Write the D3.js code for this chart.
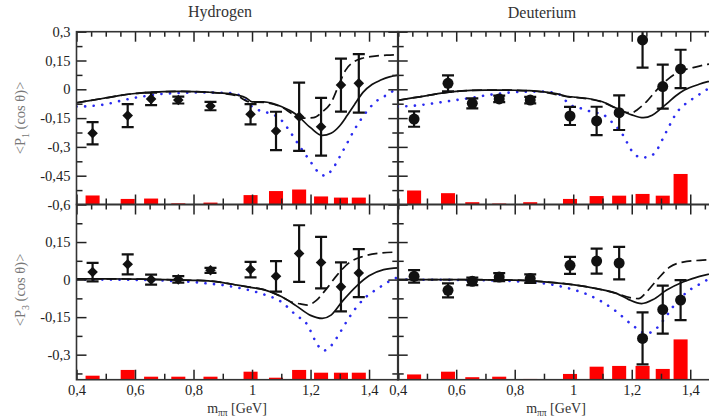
<!DOCTYPE html>
<html>
<head>
<meta charset="utf-8">
<script src="https://cdn.jsdelivr.net/npm/d3@7"></script>
<style>
  body { margin: 0; background: #fff; }
  svg { display: block; font-family: "Liberation Serif", "DejaVu Serif", serif; }
  .tick text { font-family: "Liberation Serif", "DejaVu Serif", serif; font-size: 14.5px; fill: #222; }
  .tick line { stroke: #222; stroke-width: 1.5; }
</style>
</head>
<body>
<div class="chart"></div>
<script>
// masses of the data bins (GeV)
const massH = [0.455, 0.575, 0.655, 0.748, 0.858, 0.995, 1.082, 1.161, 1.236, 1.304, 1.365];
const massD = [0.456, 0.572, 0.655, 0.747, 0.853, 0.989, 1.08, 1.157, 1.237, 1.306, 1.367];

// <P1(cos theta)>
const hP1 = [-0.229, -0.137, -0.05, -0.056, -0.087, -0.13, -0.217, -0.143, -0.195, 0.022, 0.031];
const hP1Err = [0.058, 0.06, 0.032, 0.018, 0.022, 0.053, 0.1, 0.178, 0.15, 0.138, 0.152];
const hP1Sys = [0.047, 0.029, 0.031, 0.006, 0.01, 0.049, 0.07, 0.078, 0.042, 0.036, 0.036];
const dP1 = [-0.155, 0.031, -0.073, -0.05, -0.056, -0.139, -0.165, -0.122, 0.257, 0.014, 0.106];
const dP1Err = [0.04, 0.042, 0.026, 0.017, 0.017, 0.047, 0.074, 0.09, 0.144, 0.115, 0.1];
const dP1Sys = [0.073, 0.059, 0.012, 0.005, 0.012, 0.029, 0.044, 0.046, 0.055, 0.046, 0.159];

// <P3(cos theta)>
const hP3 = [0.03, 0.061, 0.0, 0.001, 0.037, 0.04, 0.013, 0.104, 0.068, -0.029, 0.026];
const hP3Err = [0.037, 0.04, 0.02, 0.013, 0.01, 0.031, 0.061, 0.113, 0.103, 0.098, 0.096];
const hP3Sys = [0.016, 0.039, 0.012, 0.012, 0.012, 0.032, 0.008, 0.039, 0.028, 0.028, 0.028];
const dP3 = [0.013, -0.043, -0.007, 0.01, 0.004, 0.057, 0.074, 0.066, -0.235, -0.12, -0.082];
const dP3Err = [0.025, 0.028, 0.015, 0.016, 0.017, 0.034, 0.05, 0.065, 0.104, 0.096, 0.08];
const dP3Sys = [0.021, 0.032, 0.01, 0.012, 0.003, 0.023, 0.052, 0.055, 0.055, 0.043, 0.161];

// model curves, [mass, value]
const hP1Solid = [[0.4,-0.07],[0.45,-0.058],[0.5,-0.045],[0.55,-0.032],[0.6,-0.022],[0.65,-0.016],[0.7,-0.012],[0.75,-0.011],[0.8,-0.012],[0.85,-0.015],[0.9,-0.02],[0.95,-0.03],[0.98,-0.045],[1.0,-0.065],[1.04,-0.066],[1.1,-0.09],[1.15,-0.13],[1.2,-0.2],[1.24,-0.24],[1.27,-0.229],[1.3,-0.19],[1.325,-0.137],[1.35,-0.08],[1.38,-0.015],[1.41,0.025],[1.44,0.048],[1.47,0.065],[1.5,0.074]];
const hP1Dash = [[0.4,-0.07],[0.45,-0.058],[0.5,-0.045],[0.55,-0.032],[0.6,-0.022],[0.65,-0.016],[0.7,-0.012],[0.75,-0.011],[0.8,-0.012],[0.85,-0.015],[0.9,-0.022],[0.95,-0.035],[0.99,-0.065],[1.04,-0.068],[1.1,-0.092],[1.15,-0.138],[1.18,-0.15],[1.21,-0.148],[1.24,-0.118],[1.27,-0.07],[1.3,0.035],[1.32,0.1],[1.35,0.145],[1.38,0.163],[1.42,0.173],[1.46,0.178],[1.5,0.18]];
const hP1Dot = [[0.4,-0.09],[0.45,-0.087],[0.5,-0.078],[0.55,-0.06],[0.6,-0.044],[0.65,-0.032],[0.7,-0.023],[0.75,-0.019],[0.8,-0.017],[0.85,-0.017],[0.9,-0.018],[0.94,-0.022],[0.97,-0.045],[1.0,-0.09],[1.03,-0.113],[1.06,-0.125],[1.1,-0.16],[1.13,-0.221],[1.16,-0.29],[1.2,-0.377],[1.225,-0.429],[1.25,-0.45],[1.275,-0.415],[1.3,-0.351],[1.325,-0.281],[1.35,-0.21],[1.375,-0.151],[1.4,-0.1],[1.43,-0.056],[1.46,-0.03],[1.5,0.01]];

const dP1Solid = [[0.4,-0.058],[0.45,-0.045],[0.5,-0.033],[0.55,-0.02],[0.6,-0.011],[0.65,-0.006],[0.7,-0.004],[0.75,-0.004],[0.8,-0.005],[0.85,-0.007],[0.9,-0.013],[0.95,-0.025],[0.985,-0.038],[1.0,-0.04],[1.05,-0.048],[1.1,-0.065],[1.15,-0.1],[1.2,-0.133],[1.24,-0.148],[1.27,-0.135],[1.3,-0.1],[1.32,-0.075],[1.35,-0.035],[1.38,-0.004],[1.43,0.026],[1.46,0.04],[1.5,0.055]];
const dP1Dash = [[0.4,-0.058],[0.45,-0.045],[0.5,-0.033],[0.55,-0.02],[0.6,-0.011],[0.65,-0.006],[0.7,-0.004],[0.75,-0.004],[0.8,-0.005],[0.85,-0.008],[0.9,-0.015],[0.95,-0.03],[0.985,-0.04],[1.0,-0.042],[1.05,-0.05],[1.1,-0.067],[1.15,-0.102],[1.18,-0.12],[1.2,-0.122],[1.22,-0.105],[1.25,-0.065],[1.285,-0.004],[1.32,0.048],[1.36,0.09],[1.41,0.113],[1.46,0.13],[1.5,0.135]];
const dP1Dot = [[0.4,-0.09],[0.45,-0.086],[0.5,-0.078],[0.55,-0.067],[0.6,-0.056],[0.65,-0.045],[0.7,-0.032],[0.75,-0.022],[0.8,-0.015],[0.85,-0.012],[0.9,-0.012],[0.95,-0.025],[0.99,-0.082],[1.02,-0.096],[1.07,-0.12],[1.1,-0.13],[1.136,-0.177],[1.17,-0.238],[1.2,-0.32],[1.233,-0.356],[1.26,-0.351],[1.284,-0.321],[1.307,-0.255],[1.33,-0.186],[1.352,-0.125],[1.386,-0.073],[1.42,-0.038],[1.454,-0.004],[1.5,0.03]];

const hP3Solid = [[0.4,0.003],[0.5,0.003],[0.6,0.002],[0.7,0.0],[0.8,-0.003],[0.85,-0.005],[0.9,-0.012],[0.95,-0.022],[1.0,-0.032],[1.04,-0.04],[1.1,-0.068],[1.15,-0.104],[1.2,-0.143],[1.24,-0.155],[1.27,-0.142],[1.31,-0.085],[1.36,-0.023],[1.4,0.015],[1.45,0.04],[1.5,0.047]];
const hP3Dash = [[0.4,0.003],[0.5,0.003],[0.6,0.002],[0.7,0.0],[0.8,-0.003],[0.85,-0.005],[0.9,-0.012],[0.95,-0.022],[1.0,-0.032],[1.04,-0.04],[1.1,-0.068],[1.14,-0.092],[1.165,-0.097],[1.19,-0.102],[1.22,-0.083],[1.255,-0.036],[1.29,0.017],[1.335,0.07],[1.38,0.093],[1.44,0.106],[1.5,0.11]];
const hP3Dot = [[0.4,0.0],[0.5,0.0],[0.6,-0.001],[0.7,-0.004],[0.8,-0.01],[0.85,-0.016],[0.9,-0.022],[0.95,-0.032],[1.0,-0.045],[1.04,-0.059],[1.1,-0.089],[1.15,-0.142],[1.19,-0.182],[1.215,-0.242],[1.244,-0.284],[1.272,-0.262],[1.3,-0.213],[1.33,-0.155],[1.36,-0.106],[1.39,-0.069],[1.43,-0.036],[1.48,0.0],[1.5,0.01]];

const dP3Solid = [[0.4,0.0],[0.6,0.0],[0.8,-0.002],[0.88,-0.007],[0.99,-0.019],[1.08,-0.036],[1.15,-0.056],[1.19,-0.08],[1.234,-0.096],[1.273,-0.08],[1.318,-0.043],[1.375,-0.01],[1.432,0.013],[1.5,0.03]];
const dP3Dash = [[0.4,0.0],[0.6,0.0],[0.8,-0.002],[0.88,-0.007],[0.99,-0.019],[1.08,-0.036],[1.15,-0.056],[1.194,-0.072],[1.223,-0.076],[1.251,-0.049],[1.285,-0.003],[1.33,0.05],[1.375,0.07],[1.432,0.077],[1.5,0.08]];
const dP3Dot = [[0.4,0.0],[0.7,-0.003],[0.85,-0.01],[0.94,-0.023],[1.0,-0.04],[1.05,-0.06],[1.1,-0.09],[1.15,-0.13],[1.2,-0.18],[1.25,-0.215],[1.28,-0.2],[1.31,-0.16],[1.34,-0.11],[1.37,-0.07],[1.4,-0.04],[1.43,-0.02],[1.46,0.0],[1.5,0.02]];

// axis ticks
const xMajor = [0.4, 0.6, 0.8, 1.0, 1.2, 1.4];
const xMinorTop = [0.45, 0.5, 0.55, 0.65, 0.7, 0.75, 0.85, 0.9, 0.95, 1.05, 1.1, 1.15, 1.25, 1.3, 1.35, 1.45, 1.5];
const xMinorBottom = [0.5, 0.7, 0.9, 1.1, 1.3, 1.5];
const yTopMajor = [0.3, 0.15, 0, -0.15, -0.3, -0.45, -0.6];
const yTopMinor = [0.225, 0.075, -0.075, -0.225, -0.375, -0.525];
const yBotMajor = [0.15, 0, -0.15, -0.3];
const yBotMinor = [0.225, 0.075, -0.075, -0.225, -0.375];

const width = 709;
const height = 419;
const blue = "#2b2bf0";

const svg = d3.select(".chart").append("svg")
  .attr("width", width)
  .attr("height", height);

const xH = d3.scaleLinear().domain([0.4, 1.5]).range([76.5, 398.3]);
const xD = d3.scaleLinear().domain([0.4, 1.5]).range([397.7, 719.5]);
const yTop = d3.scaleLinear().domain([-0.6, 0.3]).range([204.5, 31.7]);
const yBot = d3.scaleLinear().domain([-0.4, 0.3]).range([379.7, 204.5]);

const comma = (d) => {
  if (Math.abs(d) < 1e-9) return "0";
  return String(+d.toFixed(2)).replace(".", ",");
};

let clipCount = 0;

function drawPanel(p) {
  const [x0, x1] = p.x.range();
  const [y1, y0] = p.y.range();
  const g = svg.append("g");
  const clipId = "clip" + (clipCount++);

  g.append("clipPath").attr("id", clipId)
    .append("rect")
    .attr("x", x0).attr("y", y0)
    .attr("width", x1 - x0).attr("height", y1 - y0);

  const body = g.append("g").attr("clip-path", `url(#${clipId})`);

  // systematic error bars along the bottom
  const base = p.y.domain()[0];
  body.selectAll(".sys")
    .data(p.mass.map((m, i) => ({ m: m, s: p.sys[i] })))
    .enter()
    .append("rect")
    .attr("x", (d) => p.x(d.m - 0.024))
    .attr("width", (d) => p.x(d.m + 0.024) - p.x(d.m - 0.024))
    .attr("y", (d) => p.y(base + d.s))
    .attr("height", (d) => p.y(base) - p.y(base + d.s))
    .attr("fill", "#ff0000");

  const line = d3.line()
    .x((d) => p.x(d[0]))
    .y((d) => p.y(d[1]))
    .curve(d3.curveMonotoneX);

  body.append("path").datum(p.dot).attr("d", line)
    .attr("fill", "none").attr("stroke", blue)
    .attr("stroke-width", 2.6).attr("stroke-linecap", "round")
    .attr("stroke-dasharray", "0.1 8.5");
  body.append("path").datum(p.dash).attr("d", line)
    .attr("fill", "none").attr("stroke", "#111")
    .attr("stroke-width", 1.7).attr("stroke-dasharray", "10 5");
  body.append("path").datum(p.solid).attr("d", line)
    .attr("fill", "none").attr("stroke", "#111")
    .attr("stroke-width", 1.7);

  // data points with error bars
  const pts = p.mass.map((m, i) => ({ m: m, v: p.val[i], e: p.err[i] }));
  const eb = body.selectAll(".pt").data(pts).enter().append("g");
  eb.append("line")
    .attr("x1", (d) => p.x(d.m)).attr("x2", (d) => p.x(d.m))
    .attr("y1", (d) => p.y(d.v + d.e)).attr("y2", (d) => p.y(d.v - d.e))
    .attr("stroke", "#111").attr("stroke-width", 2.2);
  [1, -1].forEach((sgn) => {
    eb.append("line")
      .attr("x1", (d) => p.x(d.m) - 6).attr("x2", (d) => p.x(d.m) + 6)
      .attr("y1", (d) => p.y(d.v + sgn * d.e)).attr("y2", (d) => p.y(d.v + sgn * d.e))
      .attr("stroke", "#111").attr("stroke-width", 2.2);
  });
  if (p.marker === "diamond") {
    eb.append("path")
      .attr("d", d3.symbol().type(d3.symbolSquare).size(56))
      .attr("transform", (d) => `translate(${p.x(d.m)},${p.y(d.v)}) rotate(45)`)
      .attr("fill", "#111");
  } else {
    eb.append("circle")
      .attr("cx", (d) => p.x(d.m)).attr("cy", (d) => p.y(d.v))
      .attr("r", 5.5).attr("fill", "#111");
  }

  // inward ticks on all four sides
  const addAxis = (axis, tx, ty) => {
    const a = g.append("g").attr("transform", `translate(${tx},${ty})`).call(axis);
    a.select(".domain").remove();
    return a;
  };
  addAxis(d3.axisLeft(p.y).tickValues(p.yMajor).tickSize(-10).tickPadding(6)
    .tickFormat(p.yLabels ? comma : ""), x0, 0);
  addAxis(d3.axisLeft(p.y).tickValues(p.yMinor).tickSize(-6).tickFormat(""), x0, 0);
  addAxis(d3.axisRight(p.y).tickValues(p.yMajor).tickSize(-10).tickFormat(""), x1, 0);
  addAxis(d3.axisRight(p.y).tickValues(p.yMinor).tickSize(-6).tickFormat(""), x1, 0);
  addAxis(d3.axisTop(p.x).tickValues(xMajor).tickSize(-10).tickFormat(""), 0, y0);
  addAxis(d3.axisTop(p.x).tickValues(xMinorTop).tickSize(-5).tickFormat(""), 0, y0);
  addAxis(d3.axisBottom(p.x).tickValues(xMajor).tickSize(-10).tickPadding(5)
    .tickFormat(p.xLabels ? comma : ""), 0, y1);
  addAxis(d3.axisBottom(p.x).tickValues(xMinorBottom).tickSize(-6).tickFormat(""), 0, y1);

  g.append("rect")
    .attr("x", x0).attr("y", y0)
    .attr("width", x1 - x0).attr("height", y1 - y0)
    .attr("fill", "none").attr("stroke", "#333").attr("stroke-width", 1.6);
}

drawPanel({ x: xH, y: yTop, mass: massH, val: hP1, err: hP1Err, sys: hP1Sys,
  solid: hP1Solid, dash: hP1Dash, dot: hP1Dot, marker: "diamond",
  yMajor: yTopMajor, yMinor: yTopMinor, yLabels: true, xLabels: false });
drawPanel({ x: xD, y: yTop, mass: massD, val: dP1, err: dP1Err, sys: dP1Sys,
  solid: dP1Solid, dash: dP1Dash, dot: dP1Dot, marker: "circle",
  yMajor: yTopMajor, yMinor: yTopMinor, yLabels: false, xLabels: false });
drawPanel({ x: xH, y: yBot, mass: massH, val: hP3, err: hP3Err, sys: hP3Sys,
  solid: hP3Solid, dash: hP3Dash, dot: hP3Dot, marker: "diamond",
  yMajor: yBotMajor, yMinor: yBotMinor, yLabels: true, xLabels: true });
drawPanel({ x: xD, y: yBot, mass: massD, val: dP3, err: dP3Err, sys: dP3Sys,
  solid: dP3Solid, dash: dP3Dash, dot: dP3Dot, marker: "circle",
  yMajor: yBotMajor, yMinor: yBotMinor, yLabels: false, xLabels: true });

// titles
svg.append("text").attr("x", 220).attr("y", 17).attr("text-anchor", "middle")
  .attr("font-size", 16).attr("fill", "#333").text("Hydrogen");
svg.append("text").attr("x", 542).attr("y", 18).attr("text-anchor", "middle")
  .attr("font-size", 16).attr("fill", "#333").text("Deuterium");

// x axis titles
[237, 556].forEach((cx) => {
  const t = svg.append("text").attr("x", cx).attr("y", 413).attr("text-anchor", "middle")
    .attr("font-size", 14).attr("fill", "#333");
  t.append("tspan").text("m");
  t.append("tspan").attr("dy", 3).attr("font-size", 9.5).text("ππ");
  t.append("tspan").attr("dy", -3).text(" [GeV]");
});

// y axis titles
[[118, "1"], [290, "3"]].forEach(([cy, n]) => {
  const t = svg.append("text")
    .attr("transform", `translate(25,${cy}) rotate(-90)`)
    .attr("text-anchor", "middle")
    .attr("font-size", 14.5).attr("fill", "#777");
  t.append("tspan").text("<P");
  t.append("tspan").attr("dy", 4).attr("font-size", 10).text(n);
  t.append("tspan").attr("dy", -4).text(" (cos θ)>");
});
</script>
</body>
</html>
